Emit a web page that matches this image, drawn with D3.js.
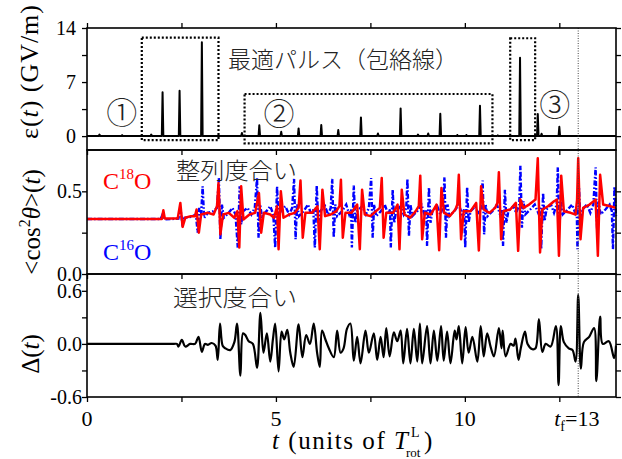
<!DOCTYPE html>
<html>
<head>
<meta charset="utf-8">
<script src="https://cdn.jsdelivr.net/npm/d3@7/dist/d3.min.js"></script>
<style>
  body { margin: 0; background: #fff; }
  text { font-family: "Liberation Serif", "Times New Roman", serif; fill: #000; }
  .jp { font-family: "Noto Sans CJK JP", sans-serif; font-weight: 300; fill: #222; }
</style>
</head>
<body>
<div id="chart"></div>
<script>
// pulse envelope: time (T_rot units) and peak field (GV/m)
var pulseT = [0.33, 0.93, 1.70, 2.00, 2.45, 3.04, 4.10, 4.56, 5.14, 5.60, 6.20, 6.65, 7.25, 7.70, 8.30, 8.76, 9.03, 9.35, 9.80, 10.04, 10.40, 10.87, 11.46, 11.93, 12.03, 12.50];
var pulseAmp = [0.2, 0.12, 0.2, 5.67, 5.88, 12.15, 0.4, 1.4, 0.55, 1.0, 1.43, 0.78, 2.42, 0.35, 3.59, 0.2, 0.35, 2.9, 0.15, 0.15, 3.93, 0.1, 10.16, 2.85, 0.3, 1.2];

// dotted groups in the top panel: [t0, t1, e0, e1]
var groupBoxes = [[1.45, 3.48, -0.52, 12.75], [4.17, 10.73, -0.95, 5.45], [11.2, 11.86, -0.52, 12.67]];
var groupLabels = ["①", "②", "③"];
var groupLabelPos = [[0.92, 2.95], [5.08, 2.85], [12.38, 4.0]];

// <cos^2 theta>(t) for C18O (red)
var c18 = [[0,0.333],[1.98,0.333],[2.02,0.385],[2.06,0.335],[2.4,0.335],[2.47,0.43],[2.53,0.285],[2.6,0.34],[2.75,0.35],[2.86,0.35],[2.9,0.39],[2.96,0.25],[3.02,0.36],[3.2,0.37],[3.35,0.36],[3.44,0.41],[3.48,0.55],[3.53,0.24],[3.6,0.36],[3.75,0.37],[3.9,0.34],[3.98,0.38],[4.03,0.16],[4.08,0.53],[4.14,0.33],[4.3,0.36],[4.45,0.37],[4.55,0.49],[4.61,0.25],[4.68,0.37],[4.85,0.36],[4.95,0.34],[5.03,0.41],[5.07,0.15],[5.13,0.50],[5.2,0.34],[5.35,0.36],[5.5,0.37],[5.6,0.40],[5.65,0.565],[5.71,0.22],[5.78,0.37],[5.95,0.37],[6.1,0.41],[6.16,0.15],[6.23,0.51],[6.3,0.35],[6.45,0.36],[6.6,0.38],[6.68,0.41],[6.72,0.57],[6.77,0.22],[6.84,0.37],[7.0,0.37],[7.15,0.42],[7.22,0.15],[7.28,0.51],[7.35,0.36],[7.5,0.35],[7.65,0.38],[7.75,0.40],[7.8,0.58],[7.85,0.22],[7.92,0.37],[8.1,0.37],[8.22,0.42],[8.27,0.15],[8.33,0.51],[8.4,0.36],[8.55,0.34],[8.7,0.38],[8.78,0.41],[8.82,0.595],[8.87,0.21],[8.94,0.37],[9.1,0.36],[9.25,0.42],[9.32,0.144],[9.38,0.52],[9.45,0.37],[9.6,0.35],[9.75,0.39],[9.8,0.42],[9.84,0.60],[9.9,0.21],[9.97,0.38],[10.15,0.38],[10.3,0.43],[10.37,0.142],[10.43,0.53],[10.5,0.39],[10.65,0.37],[10.8,0.40],[10.86,0.43],[10.9,0.615],[10.96,0.21],[11.02,0.38],[11.2,0.39],[11.35,0.43],[11.41,0.14],[11.47,0.45],[11.55,0.40],[11.7,0.42],[11.87,0.45],[11.93,0.70],[11.99,0.13],[12.05,0.39],[12.2,0.41],[12.36,0.44],[12.44,0.45],[12.49,0.11],[12.55,0.595],[12.62,0.38],[12.8,0.37],[12.93,0.36],[12.97,0.45],[13.0,0.70],[13.06,0.21],[13.13,0.40],[13.3,0.42],[13.46,0.45],[13.52,0.11],[13.58,0.60],[13.66,0.42],[13.85,0.41],[14.0,0.40]];

// <cos^2 theta>(t) for C16O (blue)
var c16 = [[0,0.333],[1.95,0.333],[2.0,0.36],[2.05,0.33],[2.42,0.335],[2.47,0.40],[2.52,0.31],[2.58,0.34],[2.75,0.345],
  [2.88,0.36],[2.93,0.25],[2.97,0.40],[3.02,0.36],[3.06,0.53],[3.1,0.34],[3.2,0.37],[3.35,0.38],[3.44,0.40],
  [3.49,0.58],[3.53,0.21],[3.57,0.42],[3.62,0.34],[3.75,0.37],[3.85,0.40],[3.93,0.36],
  [3.99,0.16],[4.04,0.53],[4.08,0.30],[4.13,0.38],[4.25,0.40],[4.35,0.36],[4.44,0.40],
  [4.5,0.58],[4.54,0.22],[4.58,0.42],[4.63,0.35],[4.75,0.38],[4.85,0.41],[4.93,0.36],
  [4.98,0.16],[5.03,0.53],[5.07,0.31],[5.12,0.38],[5.25,0.41],[5.35,0.36],[5.43,0.40],
  [5.48,0.575],[5.52,0.21],[5.56,0.42],[5.61,0.35],[5.73,0.38],[5.85,0.42],[5.93,0.36],[5.99,0.39],
  [6.03,0.16],[6.08,0.535],[6.12,0.31],[6.17,0.38],[6.3,0.41],[6.38,0.36],[6.45,0.40],
  [6.49,0.575],[6.53,0.22],[6.57,0.42],[6.62,0.35],[6.75,0.38],[6.86,0.42],[6.94,0.36],[6.99,0.39],
  [7.01,0.16],[7.06,0.535],[7.1,0.31],[7.15,0.38],[7.28,0.41],[7.38,0.36],[7.46,0.40],
  [7.52,0.58],[7.56,0.22],[7.6,0.42],[7.65,0.35],[7.78,0.38],[7.88,0.42],[7.97,0.36],[8.02,0.39],
  [8.04,0.16],[8.09,0.51],[8.13,0.31],[8.18,0.38],[8.3,0.41],[8.38,0.36],[8.45,0.40],
  [8.48,0.575],[8.52,0.23],[8.56,0.42],[8.61,0.35],[8.74,0.38],[8.85,0.42],[8.93,0.36],[8.98,0.39],
  [9.0,0.17],[9.05,0.525],[9.09,0.31],[9.14,0.38],[9.27,0.41],[9.35,0.36],[9.42,0.40],
  [9.46,0.585],[9.5,0.22],[9.54,0.42],[9.59,0.35],[9.72,0.38],[9.84,0.42],[9.93,0.36],[9.98,0.39],
  [10.01,0.16],[10.06,0.525],[10.1,0.31],[10.15,0.38],[10.28,0.41],[10.36,0.36],[10.43,0.40],
  [10.47,0.565],[10.51,0.24],[10.55,0.42],[10.6,0.35],[10.73,0.38],[10.85,0.42],[10.93,0.36],[10.98,0.39],
  [11.01,0.17],[11.06,0.51],[11.1,0.31],[11.15,0.38],[11.28,0.41],[11.36,0.37],[11.44,0.42],
  [11.47,0.655],[11.51,0.28],[11.55,0.44],[11.6,0.36],[11.73,0.39],[11.85,0.42],[11.94,0.37],[12.0,0.40],
  [12.02,0.15],[12.07,0.49],[12.11,0.32],[12.16,0.39],[12.28,0.42],[12.36,0.37],[12.43,0.42],
  [12.46,0.645],[12.5,0.27],[12.54,0.44],[12.59,0.36],[12.72,0.39],[12.84,0.42],[12.92,0.37],[12.96,0.40],
  [12.98,0.15],[13.02,0.525],[13.06,0.32],[13.11,0.39],[13.23,0.42],[13.32,0.37],[13.4,0.42],
  [13.46,0.645],[13.5,0.27],[13.54,0.44],[13.59,0.36],[13.72,0.39],[13.83,0.42],[13.89,0.38],
  [13.92,0.15],[13.96,0.53],[14.0,0.35]];

// selectivity Delta(t)
var delta = [[0,0],[1.2,0],[2.3,0],[2.38,0],[2.42,-0.03],[2.51,0.045],[2.6,-0.03],[2.73,0.0],[2.86,0.0],[2.95,0.08],[3.04,-0.09],[3.12,0.0],[3.2,-0.01],[3.3,0.01],[3.4,-0.02],[3.46,-0.18],[3.52,0.23],[3.59,-0.02],[3.66,-0.05],[3.79,-0.07],[3.9,0.02],[3.97,0.23],[4.06,-0.36],[4.13,0.12],[4.19,0.10],[4.28,0.03],[4.39,0.0],[4.5,-0.27],[4.59,0.35],[4.67,-0.1],[4.76,0.12],[4.85,-0.2],[4.92,0.05],[4.98,0.23],[5.07,-0.31],[5.15,0.14],[5.22,0.05],[5.3,0.16],[5.38,-0.1],[5.47,-0.26],[5.6,0.22],[5.7,-0.15],[5.8,0.1],[5.9,0.0],[6.0,0.23],[6.09,-0.1],[6.16,-0.26],[6.22,0.15],[6.31,0.05],[6.4,-0.05],[6.53,-0.15],[6.62,0.15],[6.71,-0.1],[6.79,-0.05],[6.88,0.17],[6.97,0.23],[7.06,-0.19],[7.15,0.08],[7.24,-0.22],[7.37,0.15],[7.46,-0.1],[7.59,0.12],[7.68,-0.18],[7.77,0.08],[7.85,-0.15],[7.92,0.18],[8.01,-0.14],[8.12,0.13],[8.21,0.03],[8.3,0.15],[8.37,-0.22],[8.47,0.17],[8.56,-0.22],[8.65,0.17],[8.74,-0.2],[8.81,0.23],[8.87,-0.22],[9.0,0.2],[9.09,-0.22],[9.18,0.15],[9.27,-0.19],[9.37,0.2],[9.44,-0.19],[9.53,0.14],[9.62,-0.22],[9.73,0.15],[9.78,0.05],[9.84,0.2],[9.93,-0.22],[10.02,0.19],[10.1,-0.1],[10.2,0.08],[10.33,-0.2],[10.42,0.2],[10.5,-0.14],[10.59,0.12],[10.68,-0.03],[10.77,-0.14],[10.9,0.18],[10.97,-0.05],[11.0,0.15],[11.08,-0.14],[11.21,0.0],[11.29,-0.02],[11.34,0.06],[11.42,-0.18],[11.48,-0.05],[11.59,0.14],[11.66,0.0],[11.79,-0.06],[11.87,-0.05],[11.96,0.28],[12.05,-0.09],[12.14,0.0],[12.27,-0.03],[12.41,0.2],[12.48,-0.465],[12.54,0.2],[12.62,0.02],[12.75,-0.05],[12.85,-0.07],[12.93,-0.2],[13.0,0.555],[13.07,-0.28],[13.15,0.02],[13.29,0.08],[13.42,0.18],[13.48,-0.42],[13.58,0.31],[13.65,0.0],[13.81,0.03],[13.95,-0.16],[14.0,-0.02]];

var xTicks = [0, 2.5, 5, 7.5, 10, 12.5];
var xLabels = [[0, "0"], [5, "5"], [10, "10"]];
var tFinal = 13;
var eTicks = [0, 3.5, 7, 10.5, 14], eLabels = [0, 7, 14];
var cTicks = [0, 0.25, 0.5], cLabels = [[0, "0.0"], [0.5, "0.5"]];
var dTicks = [-0.6, -0.3, 0, 0.3, 0.6], dLabels = [[0.6, "0.6"], [0, "0.0"], [-0.6, "-0.6"]];

var width = 622, height = 459;
var left = 87, right = 616;

var svg = d3.select("#chart").append("svg")
    .attr("width", width)
    .attr("height", height);

var x = d3.scaleLinear().domain([0, 14]).range([left, right]);
var yE = d3.scaleLinear().domain([-1.8, 14]).range([150, 28]);
var yC = d3.scaleLinear().domain([0, 0.75]).range([274, 150]);
var yD = d3.scaleLinear().domain([-0.6, 0.79]).range([397, 274]);

function tickOnly(g) {
    g.select(".domain").remove();
    g.selectAll("text").remove();
    g.selectAll("line").attr("stroke", "#000").attr("stroke-width", 1.3);
}

/* top panel: pulse envelope */
var pulsePts = [[0, 0]];
pulseT.forEach(function(t, i) {
    pulsePts.push([t - 0.02, 0], [t, pulseAmp[i]], [t + 0.02, 0]);
});
pulsePts.push([14, 0]);

var eLine = d3.line().x(function(d) { return x(d[0]); }).y(function(d) { return yE(d[1]); });
svg.append("path")
    .attr("d", eLine(pulsePts))
    .attr("fill", "none")
    .attr("stroke", "#000")
    .attr("stroke-width", 2)
    .attr("stroke-linejoin", "round");

svg.append("g").selectAll("rect")
    .data(groupBoxes)
    .enter().append("rect")
    .attr("x", function(d) { return x(d[0]); })
    .attr("y", function(d) { return yE(d[3]); })
    .attr("width", function(d) { return x(d[1]) - x(d[0]); })
    .attr("height", function(d) { return yE(d[2]) - yE(d[3]); })
    .attr("fill", "none")
    .attr("stroke", "#000")
    .attr("stroke-width", 2.2)
    .attr("stroke-dasharray", "2,2");

svg.append("g").selectAll("text")
    .data(groupLabels)
    .enter().append("text")
    .attr("class", "jp")
    .attr("x", function(d, i) { return x(groupLabelPos[i][0]); })
    .attr("y", function(d, i) { return yE(groupLabelPos[i][1]); })
    .attr("dy", "0.36em")
    .attr("text-anchor", "middle")
    .attr("font-size", 31)
    .text(function(d) { return d; });

svg.append("text").attr("class", "jp")
    .attr("x", 228).attr("y", 68)
    .attr("font-size", 23)
    .attr("textLength", 230).attr("lengthAdjust", "spacingAndGlyphs")
    .text("最適パルス（包絡線）");

/* middle panel: alignment */
var cLine = d3.line().x(function(d) { return x(d[0]); }).y(function(d) { return yC(d[1]); });
svg.append("path")
    .attr("d", cLine(c16))
    .attr("fill", "none")
    .attr("stroke", "#0000ff")
    .attr("stroke-width", 2.4)
    .attr("stroke-dasharray", "5,2,1.6,2");
svg.append("path")
    .attr("d", cLine(c18))
    .attr("fill", "none")
    .attr("stroke", "#ff0000")
    .attr("stroke-width", 2.5)
    .attr("stroke-linejoin", "round");

svg.append("text").attr("class", "jp")
    .attr("x", 176).attr("y", 179)
    .attr("font-size", 23)
    .attr("textLength", 121).attr("lengthAdjust", "spacingAndGlyphs")
    .text("整列度合い");

var lab18 = svg.append("text").attr("x", 103).attr("y", 189).attr("font-size", 24).style("fill", "#ff0000");
lab18.append("tspan").text("C");
lab18.append("tspan").attr("dy", -10).attr("font-size", 15).text("18");
lab18.append("tspan").attr("dy", 10).text("O");

var lab16 = svg.append("text").attr("x", 103).attr("y", 260).attr("font-size", 24).style("fill", "#0000ff");
lab16.append("tspan").text("C");
lab16.append("tspan").attr("dy", -10).attr("font-size", 15).text("16");
lab16.append("tspan").attr("dy", 10).text("O");

/* bottom panel: selectivity */
var dLine = d3.line()
    .curve(d3.curveCatmullRom.alpha(0.5))
    .x(function(d) { return x(d[0]); }).y(function(d) { return yD(d[1]); });
svg.append("path")
    .attr("d", dLine(delta))
    .attr("fill", "none")
    .attr("stroke", "#000")
    .attr("stroke-width", 2.2)
    .attr("stroke-linejoin", "round");

svg.append("text").attr("class", "jp")
    .attr("x", 173).attr("y", 306)
    .attr("font-size", 23)
    .attr("textLength", 124).attr("lengthAdjust", "spacingAndGlyphs")
    .text("選択度合い");

/* final time marker */
svg.append("line")
    .attr("x1", x(tFinal)).attr("x2", x(tFinal))
    .attr("y1", yE.range()[1]).attr("y2", yD.range()[0])
    .attr("stroke", "#444")
    .attr("stroke-width", 1)
    .attr("stroke-dasharray", "1,1.5");

/* frames and ticks */
[[yE, eTicks], [yC, cTicks], [yD, dTicks]].forEach(function(p) {
    var sc = p[0];
    svg.append("rect")
        .attr("x", left).attr("y", sc.range()[1])
        .attr("width", right - left).attr("height", sc.range()[0] - sc.range()[1])
        .attr("fill", "none").attr("stroke", "#000").attr("stroke-width", 1.6);
    svg.append("g").attr("transform", "translate(" + left + ",0)")
        .call(d3.axisLeft(sc).tickValues(p[1]).tickSize(5)).call(tickOnly);
    svg.append("g").attr("transform", "translate(" + right + ",0)")
        .call(d3.axisRight(sc).tickValues(p[1]).tickSize(5)).call(tickOnly);
    svg.append("g").attr("transform", "translate(0," + sc.range()[0] + ")")
        .call(d3.axisBottom(x).tickValues(xTicks).tickSize(5)).call(tickOnly);
});
svg.append("g").attr("transform", "translate(0," + yE.range()[1] + ")")
    .call(d3.axisTop(x).tickValues(xTicks).tickSize(5)).call(tickOnly);

/* tick labels */
svg.append("g").selectAll("text").data(eLabels).enter().append("text")
    .attr("x", 76).attr("y", function(d) { return yE(d); }).attr("dy", "0.35em")
    .attr("text-anchor", "end").attr("font-size", 20).text(function(d) { return d; });
svg.append("g").selectAll("text").data(cLabels).enter().append("text")
    .attr("x", 82).attr("y", function(d) { return yC(d[0]); }).attr("dy", "0.35em")
    .attr("text-anchor", "end").attr("font-size", 20).text(function(d) { return d[1]; });
svg.append("g").selectAll("text").data(dLabels).enter().append("text")
    .attr("x", 82).attr("y", function(d) { return yD(d[0]); }).attr("dy", "0.35em")
    .attr("text-anchor", "end").attr("font-size", 20).text(function(d) { return d[1]; });
svg.append("g").selectAll("text").data(xLabels).enter().append("text")
    .attr("x", function(d) { return x(d[0]); }).attr("y", 426)
    .attr("text-anchor", "middle").attr("font-size", 22).text(function(d) { return d[1]; });

var tf = svg.append("text").attr("x", x(tFinal) - 24).attr("y", 426).attr("font-size", 22);
tf.append("tspan").attr("font-style", "italic").text("t");
tf.append("tspan").attr("font-size", 14).attr("dy", 5).text("f");
tf.append("tspan").attr("dy", -5).text("=13");

/* axis titles */
var te = svg.append("text").attr("transform", "translate(38,72) rotate(-90)")
    .attr("text-anchor", "middle").attr("font-size", 26)
    .attr("textLength", 134).attr("lengthAdjust", "spacing");
te.append("tspan").text("ε(");
te.append("tspan").attr("font-style", "italic").text("t");
te.append("tspan").text(") (GV/m)");

var tc = svg.append("text").attr("transform", "translate(40,222) rotate(-90)")
    .attr("text-anchor", "middle").attr("font-size", 25);
tc.append("tspan").text("<cos");
tc.append("tspan").attr("font-size", 16).attr("dy", -10).text("2");
tc.append("tspan").attr("dy", 10).attr("font-style", "italic").text("θ");
tc.append("tspan").text(">(");
tc.append("tspan").attr("font-style", "italic").text("t");
tc.append("tspan").text(")");

var td = svg.append("text").attr("transform", "translate(39,354) rotate(-90)")
    .attr("text-anchor", "middle").attr("font-size", 25);
td.append("tspan").text("Δ(");
td.append("tspan").attr("font-style", "italic").text("t");
td.append("tspan").text(")");

var tx = svg.append("text").attr("x", 272).attr("y", 449).attr("font-size", 25)
    .attr("textLength", 136).attr("lengthAdjust", "spacing");
tx.append("tspan").attr("font-style", "italic").text("t");
tx.append("tspan").text(" (units of ");
tx.append("tspan").attr("font-style", "italic").text("T");
svg.append("text").attr("x", 411).attr("y", 437).attr("font-size", 14).text("L");
svg.append("text").attr("x", 406).attr("y", 457).attr("font-size", 13).text("rot");
svg.append("text").attr("x", 424).attr("y", 449).attr("font-size", 25).text(")");
</script>
</body>
</html>
